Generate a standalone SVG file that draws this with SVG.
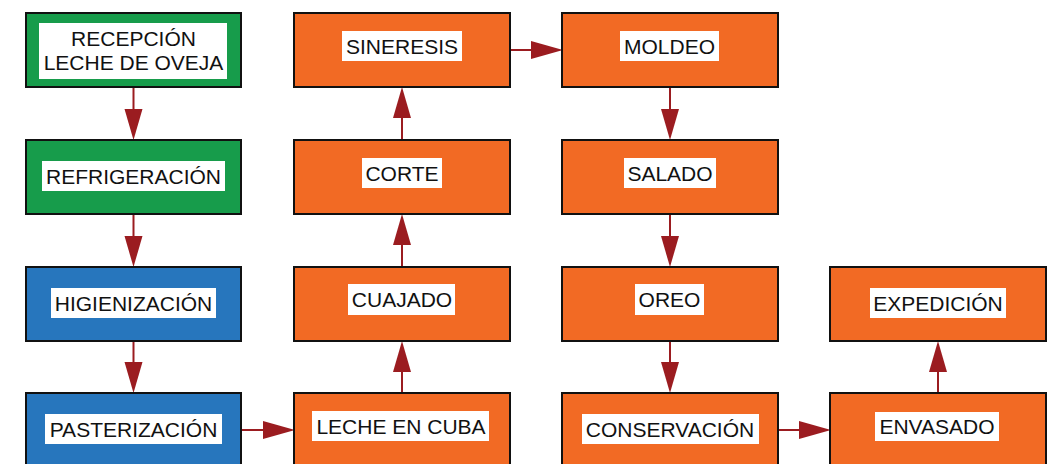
<svg xmlns="http://www.w3.org/2000/svg" width="1060" height="464" viewBox="0 0 1060 464">
<style>
.box{stroke:#111;stroke-width:2}
.g{fill:#179c4b}.b{fill:#2776bd}.o{fill:#f26a24}
.lb{fill:#fff}
text{font-family:"Liberation Sans",Arial,sans-serif;font-size:21px;fill:#111;text-anchor:middle}
.c line{stroke:#9b1c20;stroke-width:2}
.c polygon{fill:#9b1c20}
</style>
<rect width="1060" height="464" fill="#fff"/>
<g class="c" id="connectors">
<line x1="133.5" y1="87" x2="133.5" y2="112"/><polygon points="124.5,109 142.5,109 133.5,140"/>
<line x1="133.5" y1="214" x2="133.5" y2="239"/><polygon points="124.5,236 142.5,236 133.5,267"/>
<line x1="133.5" y1="341" x2="133.5" y2="365"/><polygon points="124.5,362 142.5,362 133.5,393"/>
<line x1="241" y1="430" x2="266" y2="430"/><polygon points="263,421 263,439 295,430"/>
<line x1="402" y1="393" x2="402" y2="369"/><polygon points="393,372 411,372 402,341"/>
<line x1="402" y1="267" x2="402" y2="242"/><polygon points="393,245 411,245 402,214"/>
<line x1="402" y1="140" x2="402" y2="115"/><polygon points="393,118 411,118 402,87"/>
<line x1="510" y1="50" x2="534" y2="50"/><polygon points="531,41 531,59 563,50"/>
<line x1="670" y1="87" x2="670" y2="112"/><polygon points="661,109 679,109 670,140"/>
<line x1="670" y1="214" x2="670" y2="239"/><polygon points="661,236 679,236 670,267"/>
<line x1="670" y1="341" x2="670" y2="365"/><polygon points="661,362 679,362 670,393"/>
<line x1="778" y1="430" x2="802" y2="430"/><polygon points="799,421 799,439 831,430"/>
<line x1="938" y1="393" x2="938" y2="369"/><polygon points="929,372 947,372 938,341"/>
</g>
<g id="recepcion"><rect class="box g" x="26" y="13" width="215" height="74"/><rect class="lb" x="39" y="23" width="188" height="56"/><text x="133.5" y="46">RECEPCIÓN</text><text x="133.5" y="70">LECHE DE OVEJA</text></g>
<g id="refrigeracion"><rect class="box g" x="26" y="140" width="215" height="74"/><rect class="lb" x="42" y="161" width="183" height="30"/><text x="133.5" y="183.5">REFRIGERACIÓN</text></g>
<g id="higienizacion"><rect class="box b" x="26" y="267" width="215" height="74"/><rect class="lb" x="51" y="288" width="165" height="30"/><text x="133.5" y="310.5">HIGIENIZACIÓN</text></g>
<g id="pasterizacion"><rect class="box b" x="26" y="393" width="215" height="76"/><rect class="lb" x="45" y="414" width="177" height="30"/><text x="133.5" y="436.5">PASTERIZACIÓN</text></g>
<g id="sineresis"><rect class="box o" x="294" y="13" width="216" height="74"/><rect class="lb" x="342" y="31" width="120" height="30"/><text x="402" y="53.5">SINERESIS</text></g>
<g id="corte"><rect class="box o" x="294" y="140" width="216" height="74"/><rect class="lb" x="362" y="158" width="80" height="30"/><text x="402" y="180.5">CORTE</text></g>
<g id="cuajado"><rect class="box o" x="294" y="267" width="216" height="74"/><rect class="lb" x="348" y="284" width="107" height="31"/><text x="402" y="307">CUAJADO</text></g>
<g id="leche-cuba"><rect class="box o" x="294" y="393" width="216" height="76"/><rect class="lb" x="312" y="411" width="177" height="30"/><text x="401" y="433.5">LECHE EN CUBA</text></g>
<g id="moldeo"><rect class="box o" x="562" y="13" width="216" height="74"/><rect class="lb" x="620" y="31" width="99" height="30"/><text x="669.5" y="53.5">MOLDEO</text></g>
<g id="salado"><rect class="box o" x="562" y="140" width="216" height="74"/><rect class="lb" x="624" y="158" width="92" height="30"/><text x="670" y="180.5">SALADO</text></g>
<g id="oreo"><rect class="box o" x="562" y="267" width="216" height="74"/><rect class="lb" x="635" y="284" width="69" height="31"/><text x="669.5" y="307">OREO</text></g>
<g id="conservacion"><rect class="box o" x="562" y="393" width="216" height="76"/><rect class="lb" x="582" y="414" width="177" height="30"/><text x="670" y="436.5">CONSERVACIÓN</text></g>
<g id="expedicion"><rect class="box o" x="830" y="267" width="216" height="74"/><rect class="lb" x="870" y="288" width="136" height="30"/><text x="938" y="310.5">EXPEDICIÓN</text></g>
<g id="envasado"><rect class="box o" x="830" y="393" width="216" height="76"/><rect class="lb" x="875" y="412" width="124" height="29"/><text x="937" y="433.5">ENVASADO</text></g>
</svg>
